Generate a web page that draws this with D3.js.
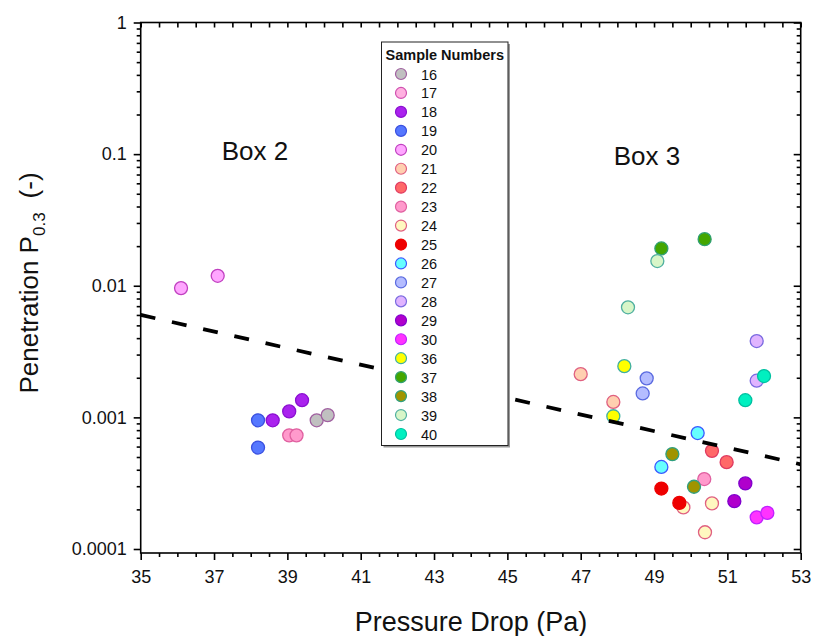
<!DOCTYPE html>
<html>
<head>
<meta charset="utf-8">
<script src="https://cdn.jsdelivr.net/npm/d3@7"></script>
<style>
  html, body { margin: 0; padding: 0; background: #fff; }
  svg { display: block; font-family: "Liberation Sans", Arial, sans-serif; }
</style>
</head>
<body>
<svg id="chart" width="813" height="636"></svg>
<script>
// Sample numbers shown in the legend, in drawing order
const samples = [16, 17, 18, 19, 20, 21, 22, 23, 24, 25, 26, 27, 28, 29, 30, 36, 37, 38, 39, 40];

// Marker fill / outline for each sample
const fills = {
  16: "#c0c0c0", 17: "#ffb0e0", 18: "#aa22ee", 19: "#5577ff", 20: "#ffa6ff",
  21: "#ffcfb0", 22: "#ff6868", 23: "#ff9acc", 24: "#fff8c0", 25: "#ee0000",
  26: "#66ffff", 27: "#b4bcff", 28: "#e0b4ff", 29: "#b000cc", 30: "#ff33ff",
  36: "#ffff00", 37: "#44a600", 38: "#a09400", 39: "#d8f6c8", 40: "#00f0c0"
};
const strokes = {
  16: "#a060a0", 17: "#d050b0", 18: "#8a10d0", 19: "#3a50e0", 20: "#c040c0",
  21: "#e06080", 22: "#e03a60", 23: "#e060a0", 24: "#e06080", 25: "#ee0000",
  26: "#3a5aff", 27: "#5a6ae0", 28: "#7a6ae0", 29: "#8000cc", 30: "#c020ff",
  36: "#40b0a0", 37: "#30a070", 38: "#30a080", 39: "#50b0a0", 40: "#00c0a0"
};

// Measurements: pressure drop (Pa) and penetration, per sample
const pressureDrop = {
  16: [39.8, 40.1],
  18: [38.6, 39.05, 39.4],
  19: [38.2, 38.2],
  20: [36.1, 37.1],
  21: [47.0, 47.89],
  22: [50.58, 50.98],
  23: [39.05, 39.25, 50.37],
  24: [49.8, 50.58, 50.39],
  25: [49.2, 49.69],
  26: [50.19, 49.2],
  27: [48.8, 48.69],
  28: [51.8, 51.8],
  29: [51.49, 51.19],
  30: [51.8, 52.09],
  36: [48.19, 47.89],
  37: [49.2, 50.38],
  38: [49.5, 50.09],
  39: [49.09, 48.29],
  40: [52.0, 51.49]
};
const penetration = {
  16: [0.00095, 0.00104],
  18: [0.00095, 0.00111, 0.00135],
  19: [0.00095, 0.00059],
  20: [0.0096, 0.0119],
  21: [0.00213, 0.00131],
  22: [0.000557, 0.000457],
  23: [0.00073, 0.00073, 0.00034],
  24: [0.000207, 0.000222, 0.000134],
  25: [0.000288, 0.000224],
  26: [0.00076, 0.00042],
  27: [0.00198, 0.00152],
  28: [0.0038, 0.0019],
  29: [0.000315, 0.000231],
  30: [0.000174, 0.000188],
  36: [0.00245, 0.00102],
  37: [0.0192, 0.0226],
  38: [0.000526, 0.000297],
  39: [0.0154, 0.00686],
  40: [0.00206, 0.00135]
};

// Exponential trend line end points
const trendX = [35, 53];
const trendY = [0.0060, 0.00044];

const xTicks = [35, 37, 39, 41, 43, 45, 47, 49, 51, 53];
const yTicks = [0.0001, 0.001, 0.01, 0.1, 1];
const yTickLabels = ["0.0001", "0.001", "0.01", "0.1", "1"];

(function draw() {
  const svg = d3.select("#chart");
  const L = 140.7, R = 800.7, T = 22.5, B = 553;

  const x = d3.scaleLinear().domain([35, 53]).range([L, R]);
  // 1e-4 sits a few pixels above the bottom frame
  const yLow = Math.pow(10, -4 - 4 / ((549 - T) / 4));
  const y = d3.scaleLog().domain([yLow, 1]).range([B, T]);

  // minor tick values
  const xMinor = d3.range(35, 53.01, 0.5).filter(v => Math.abs(v - 35) % 2 > 0.01);
  const yMinor = [];
  for (let e = -4; e < 0; e++) for (let m = 2; m <= 9; m++) yMinor.push(m * Math.pow(10, e));

  // frame
  svg.append("rect").attr("x", L).attr("y", T).attr("width", R - L).attr("height", B - T)
    .attr("fill", "none").attr("stroke", "#000").attr("stroke-width", 1.6);

  // bottom axis (outward ticks)
  const axBottom = svg.append("g").attr("transform", `translate(0,${B})`)
    .call(d3.axisBottom(x).tickValues(xTicks).tickFormat(d3.format("d")).tickSize(7).tickPadding(10));
  axBottom.append("g").call(d3.axisBottom(x).tickValues(xMinor).tickFormat("").tickSize(4));
  // top axis (inward ticks)
  const axTop = svg.append("g").attr("transform", `translate(0,${T})`)
    .call(d3.axisBottom(x).tickValues(xTicks).tickFormat("").tickSize(5));
  axTop.append("g").call(d3.axisBottom(x).tickValues(xMinor).tickFormat("").tickSize(5));
  // left axis (outward ticks)
  const axLeft = svg.append("g").attr("transform", `translate(${L},0)`)
    .call(d3.axisLeft(y).tickValues(yTicks).tickFormat((d, i) => yTickLabels[i]).tickSize(7).tickPadding(7));
  axLeft.append("g").call(d3.axisLeft(y).tickValues(yMinor).tickFormat("").tickSize(4));
  // right axis (inward ticks)
  const axRight = svg.append("g").attr("transform", `translate(${R},0)`)
    .call(d3.axisLeft(y).tickValues(yTicks).tickFormat("").tickSize(7));
  axRight.append("g").call(d3.axisLeft(y).tickValues(yMinor).tickFormat("").tickSize(4));

  svg.selectAll(".domain").remove();
  svg.selectAll(".tick line").attr("stroke", "#000").attr("stroke-width", 1.6);
  svg.selectAll(".tick text").attr("font-family", "Liberation Sans, Arial, sans-serif")
    .attr("font-size", 18).attr("fill", "#111");

  // data points
  const pts = [];
  samples.forEach(s => {
    const xs = pressureDrop[s] || [];
    xs.forEach((v, i) => pts.push({ s, x: v, y: penetration[s][i] }));
  });
  svg.append("g").selectAll("circle").data(pts).join("circle")
    .attr("cx", d => x(d.x)).attr("cy", d => y(d.y)).attr("r", 6.5)
    .attr("fill", d => fills[d.s]).attr("stroke", d => strokes[d.s]).attr("stroke-width", 1.3);

  // trend line
  svg.append("path")
    .datum(trendX.map((v, i) => [v, trendY[i]]))
    .attr("d", d3.line().x(d => x(d[0])).y(d => y(d[1])))
    .attr("fill", "none").attr("stroke", "#000").attr("stroke-width", 3.8)
    .attr("stroke-dasharray", "15,17");

  // box labels
  svg.append("text").attr("x", 255).attr("y", 160).attr("text-anchor", "middle")
    .attr("font-size", 26).attr("fill", "#111").text("Box 2");
  svg.append("text").attr("x", 647).attr("y", 165).attr("text-anchor", "middle")
    .attr("font-size", 26).attr("fill", "#111").text("Box 3");

  // axis titles
  svg.append("text").attr("x", 471).attr("y", 631).attr("text-anchor", "middle")
    .attr("font-size", 27).attr("fill", "#111").text("Pressure Drop (Pa)");
  const yt = svg.append("text").attr("transform", "translate(38,283) rotate(-90)")
    .attr("text-anchor", "middle").attr("font-size", 26).attr("fill", "#111");
  yt.append("tspan").text("Penetration P");
  yt.append("tspan").attr("font-size", 17).attr("dy", 7).text("0.3");
  yt.append("tspan").attr("dy", -7).attr("dx", 14).text("(-)");

  // legend
  const lg = svg.append("g");
  const lgX = 381.5, lgY = 42, lgW = 126.5, lgH = 403.5;
  lg.append("rect").attr("x", lgX + 2).attr("y", lgY + 2).attr("width", lgW).attr("height", lgH)
    .attr("fill", "#999");
  lg.append("rect").attr("x", lgX).attr("y", lgY).attr("width", lgW).attr("height", lgH)
    .attr("fill", "#fff").attr("stroke", "#222").attr("stroke-width", 1);
  lg.append("text").attr("x", lgX + lgW / 2).attr("y", lgY + 18).attr("text-anchor", "middle")
    .attr("font-size", 14.5).attr("font-weight", "bold").attr("fill", "#111").text("Sample Numbers");
  const ly = d3.scalePoint().domain(samples).range([74, 434]);
  const items = lg.selectAll("g.item").data(samples).join("g").attr("class", "item")
    .attr("transform", d => `translate(0,${ly(d)})`);
  items.append("circle").attr("cx", 401).attr("cy", 0).attr("r", 5.5)
    .attr("fill", d => fills[d]).attr("stroke", d => strokes[d]).attr("stroke-width", 1.2);
  items.append("text").attr("x", 421).attr("y", 5.5).attr("font-size", 14.5).attr("fill", "#111")
    .text(d => d);
})();
</script>
</body>
</html>
